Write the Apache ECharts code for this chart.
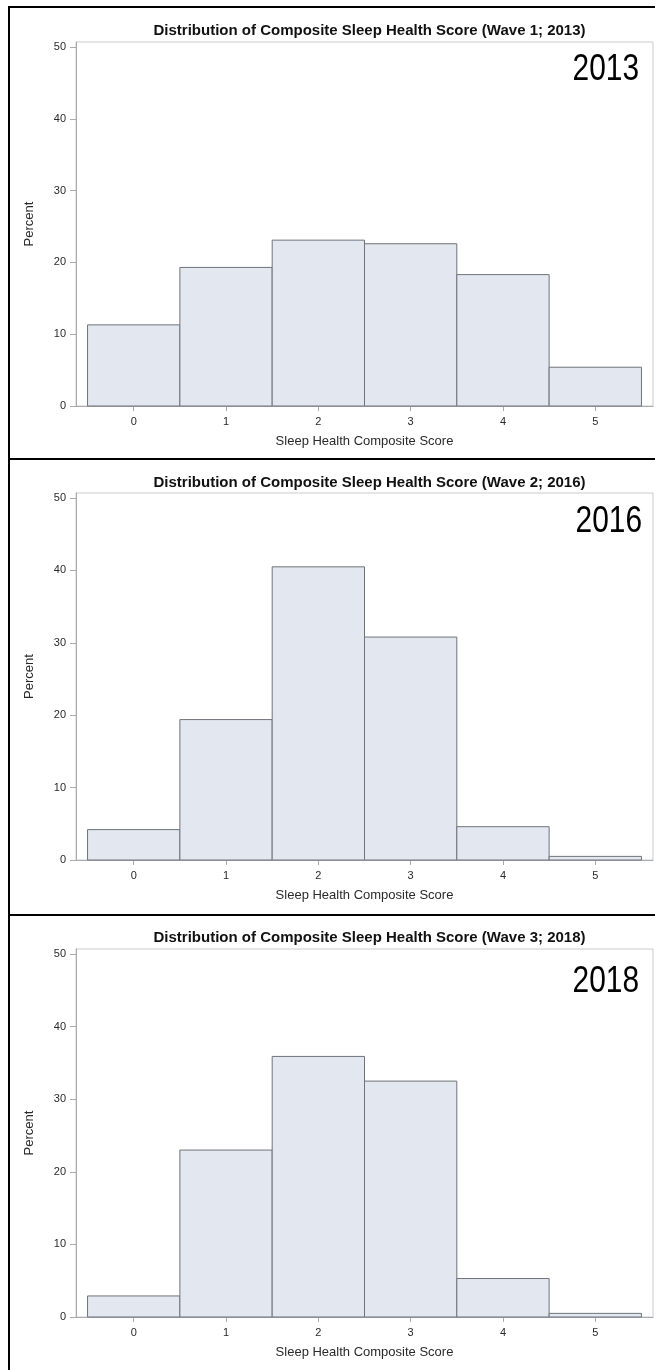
<!DOCTYPE html>
<html>
<head>
<meta charset="utf-8">
<title>Distribution of Composite Sleep Health Score</title>
<script src="https://cdn.jsdelivr.net/npm/echarts@6/dist/echarts.min.js"></script>
<style>
  html, body { margin: 0; padding: 0; background: #ffffff; }
  #chart { width: 655px; height: 1370px; }
</style>
</head>
<body>
<div id="chart"></div>
<script>
// Composite score categories (histogram bins) and the percent in each bin per wave
const scores = [0, 1, 2, 3, 4, 5];
const pct2013 = [11.3, 19.3, 23.1, 22.6, 18.3, 5.4];
const pct2016 = [4.2, 19.4, 40.5, 30.8, 4.6, 0.5];
const pct2018 = [2.9, 23.0, 35.9, 32.5, 5.3, 0.5];
const yTicks = [0, 10, 20, 30, 40, 50];
const waveTitles = [
  'Distribution of Composite Sleep Health Score (Wave 1; 2013)',
  'Distribution of Composite Sleep Health Score (Wave 2; 2016)',
  'Distribution of Composite Sleep Health Score (Wave 3; 2018)'
];
const waveYears = ['2013', '2016', '2018'];
const waveData = [pct2013, pct2016, pct2018];

const FONT = '"Liberation Sans", Arial, Helvetica, sans-serif';
const AXIS_GRAY = '#a9abaf';
const FRAME_GRAY = '#c9cbcf';

// vertical layout of each panel
const panels = [
  { top: 42,  height: 364, titleY: 27,  yearY: 70,  yearX: 639 },
  { top: 493, height: 367, titleY: 479, yearY: 522, yearX: 642 },
  { top: 949, height: 368, titleY: 934, yearY: 982, yearX: 639 }
];

const chart = echarts.init(document.getElementById('chart'), null, { renderer: 'canvas' });

const grids = [], xAxes = [], yAxes = [], series = [], titles = [], graphics = [];

panels.forEach((p, i) => {
  grids.push({
    left: 76, right: 2, top: p.top, height: p.height,
    show: true, borderColor: FRAME_GRAY, borderWidth: 1,
    backgroundColor: 'transparent',
    containLabel: false, outerBoundsMode: 'none'
  });
  xAxes.push({
    gridIndex: i, type: 'value', min: -0.625, max: 5.625,
    name: 'Sleep Health Composite Score', nameLocation: 'middle', nameGap: 29,
    nameTextStyle: { fontFamily: FONT, fontSize: 13, color: '#2a2a2a' },
    axisLine: { show: true, onZero: false, lineStyle: { color: AXIS_GRAY, width: 1 } },
    axisTick: { show: true, length: 5, inside: false, customValues: scores, lineStyle: { color: AXIS_GRAY } },
    axisLabel: { customValues: scores, margin: 10, fontFamily: FONT, fontSize: 11, color: '#2a2a2a' },
    splitLine: { show: false }
  });
  yAxes.push({
    gridIndex: i, type: 'value', min: 0, max: 50.7,
    name: 'Percent', nameLocation: 'middle', nameGap: 40, nameRotate: 90,
    nameTextStyle: { fontFamily: FONT, fontSize: 13, color: '#2a2a2a' },
    axisLine: { show: true, onZero: false, lineStyle: { color: AXIS_GRAY, width: 1 } },
    axisTick: { show: true, length: 6, customValues: yTicks, lineStyle: { color: AXIS_GRAY } },
    axisLabel: { customValues: yTicks, margin: 10, fontFamily: FONT, fontSize: 11, color: '#2a2a2a' },
    splitLine: { show: false }
  });
  series.push({
    type: 'custom',
    xAxisIndex: i, yAxisIndex: i,
    data: scores.map((s, k) => [s, waveData[i][k]]),
    renderItem: function (params, api) {
      const x = api.value(0), y = api.value(1);
      const base = api.coord([x - 0.5, 0]);
      const tip = api.coord([x + 0.5, y]);
      return {
        type: 'rect',
        shape: { x: base[0], y: tip[1], width: tip[0] - base[0], height: base[1] - tip[1] },
        style: { fill: '#e3e7ef', stroke: '#6f737a', lineWidth: 1 }
      };
    },
    silent: true
  });
  titles.push({
    text: waveTitles[i],
    left: 364.5, top: p.titleY - 9, textAlign: 'center',
    textStyle: { fontFamily: FONT, fontSize: 15, fontWeight: 'bold', color: '#111111' }
  });
  // large condensed year label in the upper right of each panel
  graphics.push({
    type: 'text', x: p.yearX, y: p.yearY, scaleX: 0.83, silent: true,
    style: { text: waveYears[i], fontFamily: FONT, fontSize: 36, fill: '#000000', align: 'right', verticalAlign: 'middle' }
  });
});

// outer frame and panel separators
const frame = { stroke: '#000000', lineWidth: 2 };
graphics.push(
  { type: 'line', shape: { x1: 9, y1: 7, x2: 655, y2: 7 }, style: frame, silent: true },
  { type: 'line', shape: { x1: 9, y1: 6, x2: 9, y2: 1370 }, style: frame, silent: true },
  { type: 'line', shape: { x1: 9, y1: 459, x2: 655, y2: 459 }, style: frame, silent: true },
  { type: 'line', shape: { x1: 9, y1: 915, x2: 655, y2: 915 }, style: frame, silent: true }
);

chart.setOption({
  animation: false,
  backgroundColor: '#ffffff',
  title: titles,
  grid: grids,
  xAxis: xAxes,
  yAxis: yAxes,
  series: series,
  graphic: graphics
});
</script>
</body>
</html>
